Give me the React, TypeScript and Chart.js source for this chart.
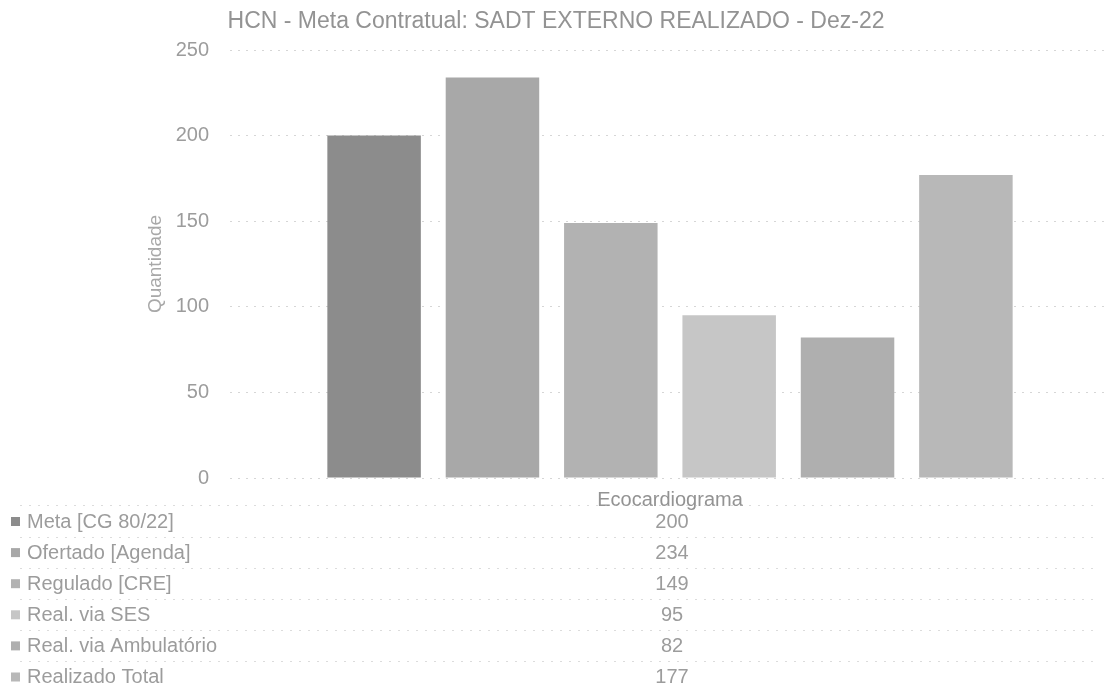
import React, { useEffect, useRef } from "react";
import { Chart, registerables } from "chart.js";

Chart.register(...registerables);

const categories = ["Ecocardiograma"];
const seriesNames = [
  "Meta [CG 80/22]",
  "Ofertado [Agenda]",
  "Regulado [CRE]",
  "Real. via SES",
  "Real. via Ambulatório",
  "Realizado Total",
];
const seriesValues = [200, 234, 149, 95, 82, 177];
const seriesColors = ["#8c8c8c", "#a8a8a8", "#b2b2b2", "#c6c6c6", "#afafaf", "#b8b8b8"];
const yTicks = [0, 50, 100, 150, 200, 250];
const titleText = "HCN - Meta Contratual: SADT EXTERNO REALIZADO - Dez-22";

const TEXT = "#9c9c9c";
const FONT = "'Liberation Sans', Arial, sans-serif";

const tablePlugin = {
  id: "dataTable",
  afterDraw(chart: any) {
    const ctx = chart.ctx;
    const area = chart.chartArea;
    const xScale = chart.scales.x;
    const cx = xScale.getPixelForValue(0) + 2;
    const rowH = 31.1;
    const firstY = area.bottom + 43;
    ctx.save();
    // title
    ctx.font = `23px ${FONT}`;
    ctx.fillStyle = "#939393";
    ctx.textAlign = "center";
    ctx.textBaseline = "middle";
    ctx.fillText(titleText, chart.width / 2, 22);
    // faint table lines
    ctx.strokeStyle = "rgba(185,185,185,0.5)";
    ctx.lineWidth = 1;
    ctx.setLineDash([2, 7]);
    for (let i = 0; i <= seriesNames.length; i++) {
      const y = Math.round(firstY - rowH / 2 + i * rowH) + 0.5;
      ctx.beginPath();
      ctx.moveTo(20, y);
      ctx.lineTo(1100, y);
      ctx.stroke();
    }
    ctx.setLineDash([]);
    ctx.font = `20px ${FONT}`;
    ctx.textBaseline = "middle";
    seriesNames.forEach((name, i) => {
      const y = firstY + i * rowH;
      ctx.fillStyle = seriesColors[i];
      ctx.fillRect(11, y - 4, 9, 9);
      ctx.fillStyle = TEXT;
      ctx.textAlign = "left";
      ctx.fillText(name, 27, y + 1);
      ctx.textAlign = "center";
      const ds = chart.data.datasets[i];
      ctx.fillText(String(ds.data[0]), cx, y + 1);
    });
    ctx.restore();
  },
};

export default function App() {
  const ref = useRef<HTMLCanvasElement | null>(null);
  useEffect(() => {
    if (!ref.current) return;
    const chart = new Chart(ref.current, {
      type: "bar",
      data: {
        labels: categories,
        datasets: seriesNames.map((name, i) => ({
          label: name,
          data: [seriesValues[i]],
          backgroundColor: seriesColors[i],
          borderWidth: 0,
          categoryPercentage: 0.807,
          barPercentage: 0.79,
        })),
      },
      options: {
        animation: false,
        responsive: false,
        maintainAspectRatio: false,
        layout: { padding: { left: 0, right: 2, top: 50, bottom: 0 } },
        plugins: {
          legend: { display: false },
          tooltip: { enabled: false },
          title: { display: false },
        },
        scales: {
          x: {
            afterFit: (scale: any) => {
              scale.height = 213;
            },
            grid: { display: false },
            border: { display: false },
            ticks: {
              color: "#939393",
              font: { family: FONT, size: 20 },
              padding: 2,
            },
          },
          y: {
            min: 0,
            max: 250,
            afterFit: (scale: any) => {
              scale.width = 230;
            },
            afterBuildTicks: (scale: any) => {
              scale.ticks = yTicks.map((v) => ({ value: v }));
            },
            grid: {
              color: "rgba(180,180,180,0.55)",
              lineWidth: 1,
              drawTicks: false,
            },
            border: { display: false, dash: [2, 6] },
            ticks: {
              color: TEXT,
              font: { family: FONT, size: 20 },
              padding: 21,
            },
            title: {
              display: true,
              text: "Quantidade",
              color: "#a8a8a8",
              font: { family: FONT, size: 19 },
              padding: { top: 144, bottom: 0 },
            },
          },
        },
      },
      plugins: [tablePlugin],
    });
    return () => chart.destroy();
  }, []);
  return (
    <div style={{ position: "fixed", left: 0, top: 0, width: 1112, height: 691, background: "#fff" }}>
      <canvas ref={ref} width={1112} height={691} style={{ width: 1112, height: 691 }} />
    </div>
  );
}
